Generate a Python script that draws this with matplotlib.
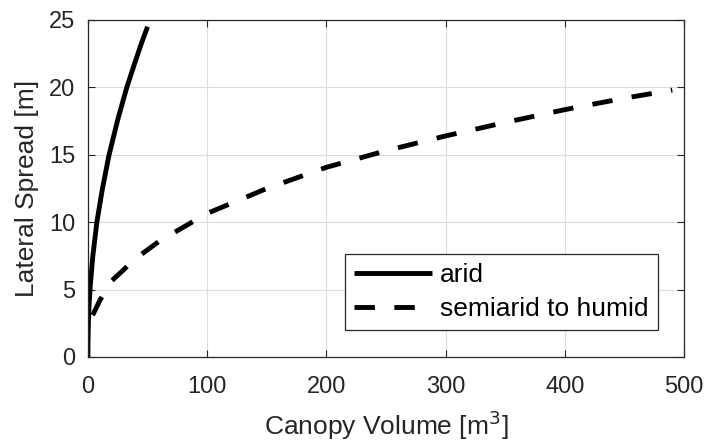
"""Lateral spread vs canopy volume, MATLAB-style line chart"""
import matplotlib.pyplot as plt

# Arid curve, values
arid_volume = [0, 0.02, 0.1, 0.5, 1, 2, 4, 7.5, 12, 17.5, 25, 32.6, 40, 45, 50]
arid_spread = [0, 0.6, 1.3, 2.8, 3.9, 5.3, 7.4, 10.0, 12.4, 14.9, 17.6, 20.0, 22.0, 23.3, 24.5]

# Semiarid to humid curve
humid_volume = [4, 10, 20, 40, 60, 100, 150, 200, 250, 300, 350, 400, 450, 490]
humid_spread = [3.1, 4.2, 5.65, 7.3, 8.6, 10.65, 12.5, 14.07, 15.3, 16.4, 17.4, 18.35, 19.2, 19.8]

x_ticks = [0, 100, 200, 300, 400, 500]
y_ticks = [0, 5, 10, 15, 20, 25]

plt.rcParams['font.family'] = ['Liberation Sans', 'DejaVu Sans']
dark = '#262626'

fig = plt.figure(figsize=(7.09, 4.44), dpi=100)
ax = fig.add_axes([0.124, 0.196, 0.841, 0.759])

ax.plot(arid_volume, arid_spread, color='k', lw=3.5, solid_capstyle='butt', label='arid')
ax.plot(humid_volume, humid_spread, color='k', lw=3.5, dashes=(4.2, 4.0),
        dash_capstyle='butt', label='semiarid to humid')

ax.set_xlim(0, 500)
ax.set_ylim(0, 25)
ax.set_xticks(x_ticks)
ax.set_yticks(y_ticks)
ax.grid(True, color='#dcdcdc', lw=0.8)
ax.set_axisbelow(True)

ax.tick_params(direction='in', length=5, width=0.8, colors=dark, labelsize=17,
               top=True, right=True, labeltop=False, labelright=False)
ax.tick_params(axis='x', pad=14)
ax.tick_params(axis='y', pad=9)
for spine in ax.spines.values():
    spine.set_color(dark)
    spine.set_linewidth(0.9)

ax.set_xlabel('Canopy Volume [m$^3$]', fontsize=19, color=dark, labelpad=7)
ax.set_ylabel('Lateral Spread [m]', fontsize=19, color=dark, labelpad=7)

# Legend box in the lower right corner
leg = ax.legend(loc='lower right', bbox_to_anchor=(0.956, 0.08), borderaxespad=0,
                fontsize=19, fancybox=False, edgecolor=dark, framealpha=1,
                handlelength=2.95, handletextpad=0.3, borderpad=0.35,
                labelspacing=0.37)
leg.get_frame().set_linewidth(0.9)

fig.savefig('out.png', dpi=100)
